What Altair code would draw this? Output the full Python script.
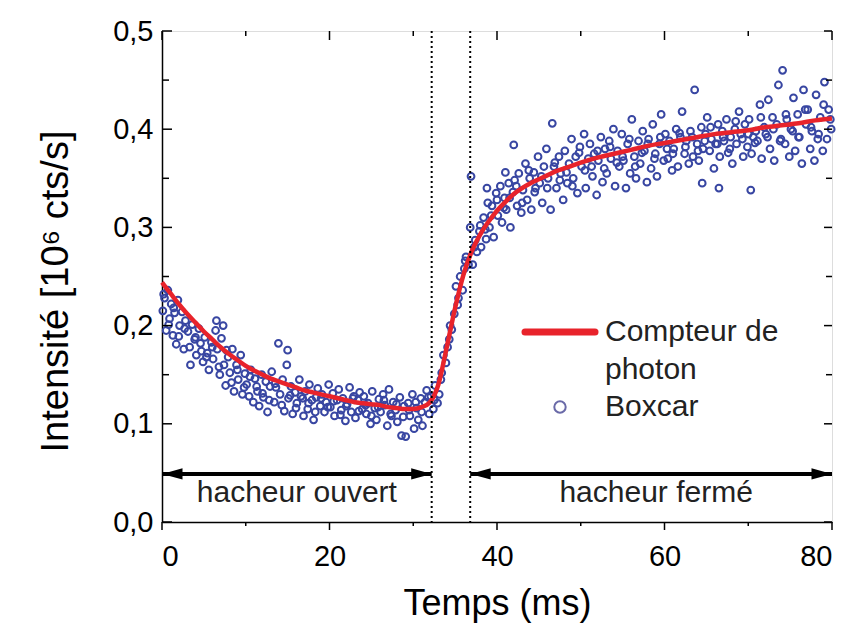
import altair as alt
import pandas as pd

# ---------------- data ----------------
box_t = [
    0.1, 0.3, 0.5, 0.7, 0.9, 1.1, 1.3, 1.5, 1.7, 1.9,
    2.1, 2.4, 2.6, 2.8, 3.1, 3.4, 3.6, 3.9, 4.1, 4.4, 4.6, 4.9,
    5.1, 5.4, 5.6, 5.9, 6.1, 6.4, 6.6, 6.9, 7.1, 7.4, 7.6, 7.9,
    8.1, 8.4, 8.6, 8.9, 9.1, 9.4, 9.6, 9.9, 6.5, 7.3, 13.9, 15.0,
    10.1, 10.4, 10.6, 10.9, 11.1, 11.4, 11.6, 11.9, 12.1, 12.4, 12.6, 12.9,
    13.1, 13.4, 13.6, 14.1, 14.4, 14.6, 14.9, 15.1, 15.4, 15.6, 15.9,
    16.1, 16.4, 16.6, 16.9, 17.1, 17.4, 17.6, 17.9, 18.1, 18.4, 18.6, 18.9,
    19.1, 19.4, 19.6, 19.9, 20.1, 20.4, 20.6, 20.9, 21.1, 21.4, 21.6, 21.9,
    22.1, 22.4, 22.6, 22.9, 23.1, 23.4, 23.6, 23.9, 24.1, 24.4, 24.6, 24.9,
    25.1, 25.4, 25.6, 25.9, 26.1, 26.4, 26.6, 26.9, 27.1, 27.4, 27.6, 27.9,
    28.1, 28.4, 28.6, 28.9, 29.1, 29.4, 29.6, 29.9, 30.1, 30.4, 30.6, 30.9,
    31.1, 31.4, 31.6, 31.9, 32.1, 32.4, 32.6, 32.9, 33.1, 33.4, 33.6, 33.9,
    34.1, 34.4, 34.6, 34.9, 35.1, 35.4, 35.6, 35.9, 36.1, 36.3, 36.6, 36.8, 36.9,
    37.1, 37.4, 37.6, 37.9, 38.1, 38.4, 38.6, 38.9, 39.1, 39.4, 39.6, 39.9,
    40.1, 40.4, 40.6, 40.9, 41.1, 41.4, 41.6, 41.9, 38.8, 41.0, 42.0,
    42.1, 42.4, 42.6, 42.9, 43.1, 43.4, 43.6, 43.9, 44.1, 44.4, 44.6, 44.9,
    45.1, 45.4, 45.6, 45.9, 46.1, 46.4, 46.6, 46.9, 47.1, 47.4, 47.6, 47.9,
    48.1, 48.4, 48.6, 48.9, 49.1, 49.4, 49.6, 49.9, 50.1, 50.4, 50.6, 50.9,
    51.1, 51.4, 51.6, 51.9, 52.1, 52.4, 52.6, 52.9, 53.1, 53.4, 53.6, 53.9,
    54.1, 54.4, 54.6, 54.9, 55.1, 55.4, 55.6, 55.9, 56.1, 56.4, 56.6, 56.9,
    57.1, 57.4, 57.6, 57.9, 58.1, 58.4, 58.6, 58.9, 59.1, 59.4, 59.6, 59.9,
    60.1, 60.4, 60.6, 60.9, 61.1, 61.4, 61.6, 61.9, 62.1, 62.4, 62.6, 62.9,
    63.1, 63.4, 63.6, 63.9, 64.1, 64.4, 64.6, 64.9, 65.1, 65.4, 65.6, 65.9,
    66.1, 66.4, 66.6, 66.9, 67.1, 67.4, 67.6, 67.9, 68.1, 68.4, 68.6, 68.9,
    69.1, 69.4, 69.6, 69.9, 70.1, 70.4, 70.6, 70.9, 71.1, 71.4, 71.6, 71.9,
    72.1, 72.4, 72.6, 72.9, 73.1, 73.4, 73.6, 73.9, 74.1, 74.4, 74.6, 74.9,
    75.1, 75.4, 75.6, 75.9, 76.1, 76.4, 76.6, 76.9, 77.1, 77.4, 77.6, 77.9,
    78.1, 78.4, 78.6, 78.9, 79.1, 79.4, 79.6, 79.9, 64.5, 66.5, 70.3,
    # second pass of points (denser cloud)
    0.2, 0.8, 1.4, 2.0, 2.7, 3.3, 4.0, 4.7, 5.3, 6.0, 6.8, 7.7, 8.3, 9.0, 9.8,
    10.5, 11.3, 12.0, 12.8, 13.5, 14.3, 15.3, 16.0, 16.8, 17.5, 18.3, 19.0, 19.8,
    20.5, 21.3, 22.0, 22.8, 23.5, 24.3, 25.0, 25.8, 26.5, 27.3, 28.0, 28.8, 29.5,
    30.3, 31.0, 31.8, 32.5, 33.3, 34.3, 35.3, 36.2, 37.3, 38.0, 38.7, 39.3, 40.0,
    40.8, 41.5, 42.3, 43.0, 43.8, 44.5, 45.3, 46.0, 46.8, 47.5, 48.3, 49.0, 49.8,
    50.5, 51.3, 52.0, 52.8, 53.5, 54.3, 55.0, 55.8, 56.5, 57.3, 58.0, 58.8, 59.5,
    60.3, 61.0, 61.8, 62.5, 63.3, 64.0, 64.8, 65.5, 66.3, 67.0, 67.8, 68.5, 69.3,
    70.0, 70.8, 71.5, 72.3, 73.0, 73.8, 74.5, 75.3, 76.0, 76.8, 77.5, 78.3, 79.0, 79.8,
]
box_i = [
    0.215, 0.228, 0.195, 0.236, 0.207, 0.222, 0.190, 0.213, 0.181, 0.226,
    0.200, 0.214, 0.176, 0.205, 0.194, 0.160, 0.201, 0.186, 0.170, 0.197, 0.182, 0.163,
    0.188, 0.172, 0.155, 0.183, 0.166, 0.195, 0.176, 0.150, 0.187, 0.160, 0.139, 0.168,
    0.152, 0.176, 0.133, 0.160, 0.145, 0.170, 0.130, 0.151, 0.205, 0.200, 0.182, 0.175,
    0.140, 0.128, 0.155, 0.122, 0.146, 0.133, 0.118, 0.150, 0.127, 0.143, 0.112, 0.138,
    0.153, 0.122, 0.137, 0.130, 0.145, 0.113, 0.160, 0.126, 0.138, 0.110, 0.132,
    0.121, 0.145, 0.128, 0.108, 0.133, 0.115, 0.140, 0.124, 0.104, 0.127, 0.136, 0.118,
    0.130, 0.112, 0.122, 0.140, 0.117, 0.131, 0.108, 0.124, 0.135, 0.114, 0.126, 0.103,
    0.120, 0.137, 0.112, 0.128, 0.106, 0.124, 0.132, 0.115, 0.128, 0.110, 0.121, 0.100,
    0.133, 0.116, 0.104, 0.125, 0.112, 0.130, 0.119, 0.098, 0.135, 0.108, 0.122, 0.114,
    0.102, 0.127, 0.088, 0.118, 0.087, 0.121, 0.108, 0.130, 0.095, 0.116, 0.104, 0.126,
    0.098, 0.122, 0.134, 0.110, 0.128, 0.115, 0.139, 0.121, 0.130, 0.152, 0.170, 0.162,
    0.178, 0.200, 0.196, 0.212, 0.240, 0.228, 0.250, 0.236, 0.258, 0.270, 0.262, 0.300, 0.352,
    0.262, 0.287, 0.275, 0.296, 0.280, 0.310, 0.298, 0.325, 0.300, 0.322, 0.290, 0.335,
    0.312, 0.342, 0.305, 0.330, 0.318, 0.345, 0.300, 0.336, 0.340, 0.356, 0.384,
    0.348, 0.322, 0.355, 0.315, 0.338, 0.365, 0.328, 0.350, 0.318, 0.356, 0.340, 0.372,
    0.345, 0.325, 0.362, 0.380, 0.350, 0.318, 0.406, 0.366, 0.340, 0.372, 0.355, 0.328,
    0.378, 0.345, 0.365, 0.390, 0.350, 0.372, 0.335, 0.382, 0.362, 0.395, 0.340, 0.370,
    0.385, 0.352, 0.375, 0.333, 0.368, 0.392, 0.346, 0.380, 0.355, 0.388, 0.370, 0.400,
    0.342, 0.378, 0.362, 0.395, 0.368, 0.340, 0.385, 0.355, 0.410, 0.372, 0.350, 0.388,
    0.365, 0.398, 0.378, 0.346, 0.390, 0.360, 0.405, 0.375, 0.352, 0.385, 0.415, 0.368,
    0.395, 0.370, 0.388, 0.358, 0.380, 0.400, 0.362, 0.392, 0.418, 0.375, 0.388, 0.365,
    0.398, 0.372, 0.440, 0.385, 0.368, 0.402, 0.380, 0.395, 0.412, 0.378, 0.390, 0.360,
    0.385, 0.405, 0.372, 0.398, 0.388, 0.410, 0.376, 0.392, 0.365, 0.400, 0.385, 0.418,
    0.395, 0.372, 0.405, 0.382, 0.410, 0.375, 0.392, 0.398, 0.388, 0.425, 0.370, 0.402,
    0.395, 0.430, 0.380, 0.412, 0.368, 0.405, 0.445, 0.390, 0.460, 0.385, 0.410, 0.372,
    0.400, 0.432, 0.378, 0.415, 0.392, 0.365, 0.440, 0.405, 0.420, 0.380, 0.398, 0.368,
    0.435, 0.395, 0.412, 0.378, 0.448, 0.390, 0.420, 0.400, 0.345, 0.340, 0.338,
    # second pass
    0.232, 0.201, 0.218, 0.189, 0.197, 0.178, 0.188, 0.174, 0.168, 0.178, 0.158, 0.175, 0.142, 0.155, 0.137,
    0.148, 0.138, 0.131, 0.124, 0.141, 0.119, 0.129, 0.116, 0.126, 0.121, 0.112, 0.126, 0.117,
    0.123, 0.109, 0.118, 0.126, 0.113, 0.119, 0.108, 0.117, 0.124, 0.110, 0.120, 0.107, 0.114,
    0.122, 0.112, 0.127, 0.124, 0.145, 0.186, 0.221, 0.266, 0.280, 0.302, 0.288, 0.312, 0.328,
    0.320, 0.330, 0.342, 0.325, 0.358, 0.336, 0.352, 0.340, 0.362, 0.348, 0.356, 0.342, 0.376,
    0.358, 0.362, 0.378, 0.360, 0.382, 0.366, 0.372, 0.390, 0.362, 0.376, 0.385, 0.370, 0.392,
    0.380, 0.375, 0.396, 0.382, 0.392, 0.378, 0.388, 0.402, 0.385, 0.392, 0.380, 0.408, 0.390,
    0.395, 0.386, 0.412, 0.392, 0.400, 0.388, 0.415, 0.398, 0.392, 0.420, 0.402, 0.390, 0.425, 0.410,
]

fit_t = [0, 1, 2, 3, 4, 5, 6, 7, 8, 9, 10, 12, 13, 14, 15, 16, 17, 18, 19, 20,
         21, 22, 23, 24, 25, 26, 27, 28, 29, 30, 31, 32, 33, 34, 35, 36, 37, 38,
         39, 40, 41, 42, 43, 44, 45, 46, 47, 48, 49, 50, 52, 54, 56, 58, 60, 62,
         64, 66, 68, 70, 72, 74, 76, 78, 80]
fit_i = [0.244, 0.233, 0.222, 0.212, 0.203, 0.194, 0.186, 0.178, 0.171, 0.165,
         0.159, 0.150, 0.146, 0.143, 0.140, 0.137, 0.134, 0.132, 0.130, 0.128,
         0.126, 0.124, 0.122, 0.121, 0.120, 0.119, 0.117, 0.116, 0.115, 0.115,
         0.117, 0.122, 0.140, 0.178, 0.218, 0.252, 0.276, 0.293, 0.306, 0.317,
         0.326, 0.334, 0.340, 0.345, 0.349, 0.353, 0.357, 0.360, 0.363, 0.366,
         0.371, 0.375, 0.379, 0.383, 0.386, 0.389, 0.392, 0.395, 0.397, 0.399,
         0.402, 0.404, 0.406, 0.409, 0.411]

vline_t = [32.2, 36.8]
arrow_start = [0, 36.8]
arrow_end = [32.2, 80]
arrow_level = [0.049, 0.049]
zone_labels = ["hacheur ouvert", "hacheur fermé"]
zone_t = [16.1, 59.0]
zone_i = [0.030, 0.030]

x_major = [0, 20, 40, 60, 80]
x_minor = [10, 30, 50, 70]
y_major = [0, 0.1, 0.2, 0.3, 0.4, 0.5]
y_minor = [0.05, 0.15, 0.25, 0.35, 0.45]

legend_line_label = ["Compteur de", "photon"]
legend_point_label = "Boxcar"

# ---------------- chart ----------------
W, H = 670, 491
FONT = "Liberation Sans"
xs = alt.Scale(domain=[0, 80], nice=False, zero=False)
ys = alt.Scale(domain=[0, 0.5], nice=False, zero=False)

box_df = pd.DataFrame({"t": box_t, "i": box_i})
fit_df = pd.DataFrame({"t": fit_t, "i": fit_i})

x_axis = alt.Axis(values=x_major, ticks=False, grid=False, domainColor="black",
                  domainWidth=1.5, labelFont=FONT, labelFontSize=29, labelColor="black",
                  labelPadding=20, title="Temps (ms)", titleFont=FONT, titleFontSize=36,
                  titleFontWeight="normal", titleColor="black", titleY=64,
                  titleBaseline="top")
y_axis = alt.Axis(values=y_major, ticks=False, grid=False, domainColor="black",
                  domainWidth=1.5, labelFont=FONT, labelFontSize=29, labelColor="black",
                  labelPadding=9,
                  labelExpr="replace(format(datum.value, '.1f'), '.', ',')",
                  title="Intensité [10⁶ cts/s]", titleFont=FONT, titleFontSize=38,
                  titleFontWeight="normal", titleColor="black", titleX=-106, titleY=260,
                  titleBaseline="middle", titleAngle=-90)

points = alt.Chart(box_df).mark_point(shape="circle", filled=False, size=46,
                                      strokeWidth=2, color="#3846a2", opacity=1).encode(
    x=alt.X("t:Q", scale=xs, axis=x_axis),
    y=alt.Y("i:Q", scale=ys, axis=y_axis),
)

fit = alt.Chart(fit_df).mark_line(color="#e8232b", strokeWidth=4.5,
                                  interpolate="monotone").encode(
    x=alt.X("t:Q", scale=xs), y=alt.Y("i:Q", scale=ys))

vlines = alt.Chart(pd.DataFrame({"t": vline_t})).mark_rule(
    color="black", strokeWidth=2, strokeDash=[2, 3]).encode(x=alt.X("t:Q", scale=xs))

arr_df = pd.DataFrame({"a": arrow_start, "b": arrow_end, "y": arrow_level})
arrows = alt.Chart(arr_df).mark_rule(color="black", strokeWidth=4).encode(
    x=alt.X("a:Q", scale=xs), x2="b:Q", y=alt.Y("y:Q", scale=ys))
heads_left = alt.Chart(arr_df).mark_point(shape="M0,0L2,-0.55L2,0.55Z", filled=True,
                                          size=420, color="black", opacity=1).encode(
    x=alt.X("a:Q", scale=xs), y=alt.Y("y:Q", scale=ys))
heads_right = alt.Chart(arr_df).mark_point(shape="M0,0L-2,-0.55L-2,0.55Z", filled=True,
                                           size=420, color="black", opacity=1).encode(
    x=alt.X("b:Q", scale=xs), y=alt.Y("y:Q", scale=ys))

zones = alt.Chart(pd.DataFrame({"t": zone_t, "i": zone_i, "lab": zone_labels})).mark_text(
    font=FONT, fontSize=30, color="#222222", baseline="middle", align="center").encode(
    x=alt.X("t:Q", scale=xs), y=alt.Y("i:Q", scale=ys), text="lab:N")

# ticks drawn as rules (inward on left/top/right, outward on bottom)
def xt(vals, y1, y2):
    return alt.Chart(pd.DataFrame({"v": vals})).mark_rule(color="black", strokeWidth=1.5).encode(
        x=alt.X("v:Q", scale=xs), y=alt.value(y1), y2=alt.value(y2))

def yt(vals, x1, x2):
    return alt.Chart(pd.DataFrame({"v": vals})).mark_rule(color="black", strokeWidth=1.5).encode(
        y=alt.Y("v:Q", scale=ys), x=alt.value(x1), x2=alt.value(x2))

ticks = [
    xt(x_major, H, H + 8), xt(x_minor, H, H + 4),
    xt(x_major, 0, 9), xt(x_minor, 0, 5),
    yt(y_major, 0, 10), yt(y_minor, 0, 7),
    yt(y_major, W, W - 8), yt(y_minor, W, W - 6),
]

# manual legend
leg_line = alt.Chart(pd.DataFrame({"k": [0]})).mark_rule(
    color="#e8232b", strokeWidth=7, strokeCap="round").encode(
    x=alt.value(363), x2=alt.value(433), y=alt.value(301))
leg_text1 = alt.Chart(pd.DataFrame({"lab": legend_line_label, "yy": [301, 339]})).mark_text(
    font=FONT, fontSize=30, color="#222222", align="left", baseline="middle").encode(
    x=alt.value(443), y=alt.Y("yy:Q", scale=None), text="lab:N")
leg_pt = alt.Chart(pd.DataFrame({"k": [0]})).mark_point(
    shape="circle", filled=False, size=130, strokeWidth=2, color="#6a6aa8", opacity=1).encode(
    x=alt.value(398), y=alt.value(376))
leg_text2 = alt.Chart(pd.DataFrame({"lab": [legend_point_label]})).mark_text(
    font=FONT, fontSize=30, color="#222222", align="left", baseline="middle").encode(
    x=alt.value(443), y=alt.value(376), text="lab:N")

chart = alt.layer(points, fit, vlines, arrows, heads_left, heads_right, zones,
                  *ticks, leg_line, leg_text1, leg_pt, leg_text2).properties(
    width=W, height=H,
    autosize=alt.AutoSizeParams(type="none"),
    padding={"left": 154, "top": 23, "right": 14, "bottom": 102},
).configure_view(stroke="black", strokeWidth=1.5).configure(background="white")

chart.save("out.html", embed_options={"renderer": "svg", "actions": False})
